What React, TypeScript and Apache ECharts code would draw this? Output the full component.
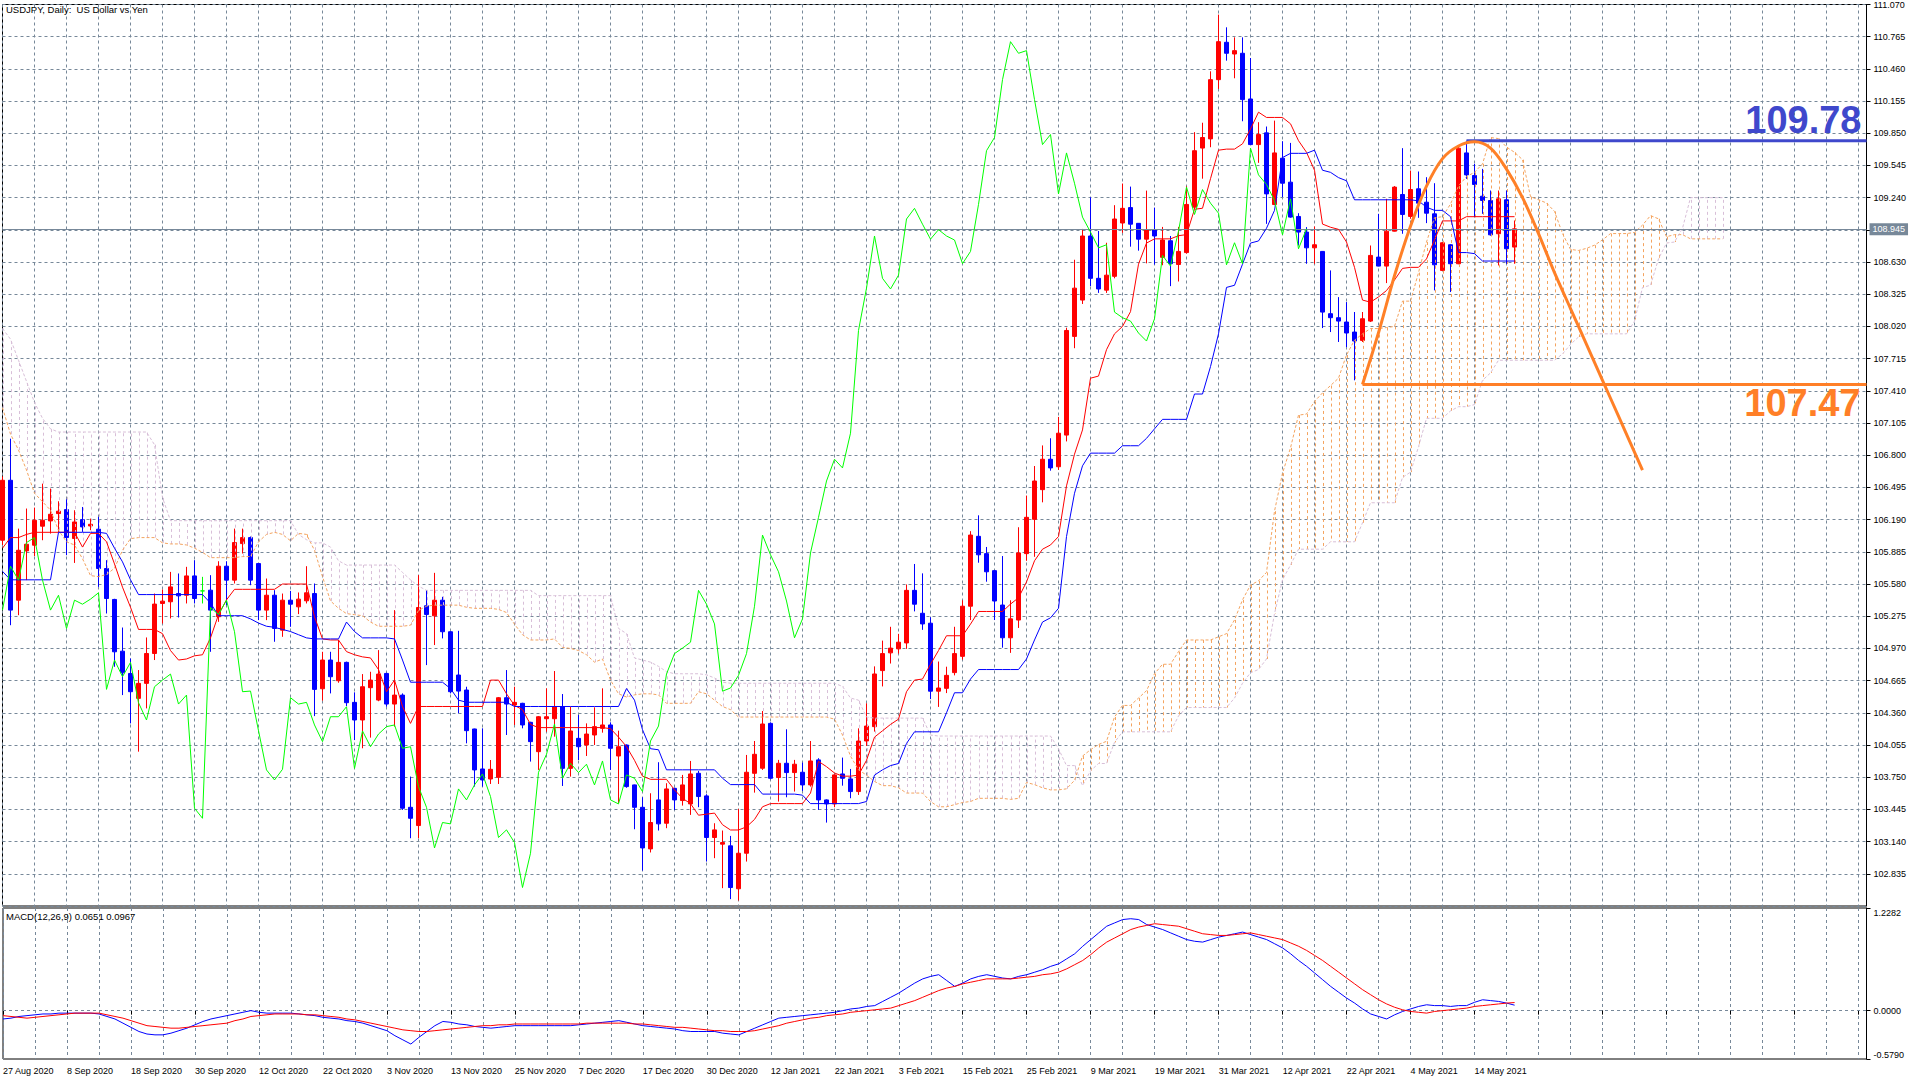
import React, { useEffect, useRef } from "react";
import * as echarts from "echarts";

// ---------- data ----------
const dateLabels = [
  "27 Aug 2020", "8 Sep 2020", "18 Sep 2020", "30 Sep 2020", "12 Oct 2020", "22 Oct 2020",
  "3 Nov 2020", "13 Nov 2020", "25 Nov 2020", "7 Dec 2020", "17 Dec 2020", "30 Dec 2020",
  "12 Jan 2021", "22 Jan 2021", "3 Feb 2021", "15 Feb 2021", "25 Feb 2021", "9 Mar 2021",
  "19 Mar 2021", "31 Mar 2021", "12 Apr 2021", "22 Apr 2021", "4 May 2021", "14 May 2021",
];
const slotCount = 234; // visible bar slots incl. empty future space
const labelEvery = 8;
const gridEvery = 4;
const chikouShift = 26;

const opens = [
  105.995, 106.563, 105.427, 105.894, 105.948, 106.128, 106.178, 106.247, 106.285, 106.011,
  106.19, 106.13, 106.1, 105.727, 105.434, 104.944, 104.733, 104.497, 104.639, 104.922,
  105.396, 105.412, 105.49, 105.474, 105.657, 105.515, 105.522, 105.27, 105.749, 105.617,
  105.963, 106.02, 105.774, 105.333, 105.474, 105.143, 105.427, 105.364, 105.421, 105.49,
  104.588, 104.86, 104.664, 104.838, 104.459, 104.292, 104.598, 104.481, 104.733, 104.443,
  104.528, 103.465, 103.292, 105.374, 105.279, 105.427, 105.128, 104.718, 104.576, 104.207,
  103.828, 103.733, 103.749, 104.503, 104.434, 104.45, 104.27, 103.992, 104.304, 104.304,
  104.418, 103.834, 104.118, 104.055, 104.15, 104.213, 104.245, 103.951, 104.055, 103.677,
  103.465, 103.071, 103.535, 103.314, 103.645, 103.529, 103.497, 103.787, 103.573, 103.179,
  103.116, 103.1, 102.693, 103.03, 103.787, 103.835, 104.26, 103.747, 103.882, 103.794,
  103.797, 103.677, 103.914, 103.535, 103.497, 103.781, 103.734, 103.614, 104.093, 104.229,
  104.76, 104.928, 104.966, 105.022, 105.52, 105.303, 105.209, 104.565, 104.592, 104.741,
  104.895, 105.37, 106.032, 105.868, 105.707, 105.381, 105.071, 105.239, 105.868, 106.193,
  106.474, 106.762, 106.691, 106.991, 107.926, 108.27, 108.877, 108.476, 108.364, 108.495,
  109.0, 109.146, 108.997, 108.847, 108.937, 108.675, 108.832, 108.607, 108.72, 109.15,
  109.71, 109.797, 110.358, 110.712, 110.601, 110.608, 110.175, 109.743, 109.854, 109.175,
  109.614, 109.387, 109.062, 108.914, 108.765, 108.731, 108.141, 108.103, 108.062, 107.967,
  107.888, 108.071, 108.677, 108.592, 108.923, 109.27, 109.062, 109.324, 109.197, 109.087,
  108.551, 108.794, 108.614, 109.664, 109.45, 109.254, 109.213, 108.898, 109.22, 108.772,
];
const closes = [
  106.563, 105.333, 105.9, 105.957, 106.184, 106.184, 106.241, 106.27, 106.02, 106.168,
  106.121, 106.146, 105.727, 105.443, 104.938, 104.739, 104.56, 104.639, 104.922, 105.39,
  105.418, 105.553, 105.468, 105.657, 105.443, 105.515, 105.333, 105.749, 105.617, 105.973,
  106.02, 105.617, 105.333, 105.474, 105.159, 105.427, 105.389, 105.437, 105.497, 104.582,
  104.86, 104.702, 104.838, 104.456, 104.292, 104.607, 104.67, 104.727, 104.443, 104.528,
  103.456, 103.361, 105.358, 105.292, 105.427, 105.128, 104.56, 104.566, 104.191, 103.819,
  103.724, 103.825, 104.503, 104.443, 104.459, 104.245, 104.087, 104.323, 104.323, 104.418,
  103.834, 104.188, 104.039, 104.159, 104.229, 104.245, 104.024, 104.039, 103.661, 103.465,
  103.08, 103.321, 103.308, 103.639, 103.535, 103.677, 103.781, 103.567, 103.179, 103.251,
  103.131, 102.705, 103.03, 103.797, 103.967, 104.254, 103.74, 103.882, 103.794, 103.873,
  103.677, 103.904, 103.535, 103.497, 103.772, 103.74, 103.614, 104.093, 104.235, 104.728,
  104.921, 104.973, 105.029, 105.52, 105.389, 105.202, 104.565, 104.595, 104.715, 104.921,
  105.37, 106.044, 105.857, 105.696, 105.419, 105.071, 105.25, 105.875, 106.212, 106.556,
  106.762, 106.68, 107.009, 107.982, 108.383, 108.877, 108.476, 108.375, 108.506, 109.038,
  109.139, 108.989, 108.847, 108.937, 108.877, 108.839, 108.615, 108.731, 109.176, 109.685,
  109.81, 110.358, 110.718, 110.608, 110.633, 110.169, 109.743, 109.838, 109.276, 109.664,
  109.377, 109.056, 108.914, 108.765, 108.794, 108.156, 108.103, 108.071, 107.958, 107.882,
  108.093, 108.693, 108.592, 108.923, 109.34, 109.081, 109.317, 109.188, 109.093, 108.604,
  108.813, 108.614, 109.709, 109.456, 109.365, 109.213, 108.888, 109.229, 108.756, 108.945,
];
const lows = [
  105.95, 105.19, 105.285, 105.617, 105.844, 105.995, 106.058, 106.074, 105.853, 105.78,
  106.074, 106.09, 105.553, 105.301, 104.796, 104.528, 104.26, 103.992, 104.402, 104.86,
  105.206, 105.254, 105.263, 105.396, 105.396, 105.396, 104.938, 105.222, 105.38, 105.585,
  105.869, 105.569, 105.238, 105.238, 105.033, 105.08, 105.175, 105.295, 105.396, 104.329,
  104.475, 104.544, 104.645, 104.424, 104.102, 104.024, 104.125, 104.47, 104.418, 104.229,
  103.44, 103.172, 103.172, 104.812, 105.002, 105.065, 104.544, 104.355, 104.071, 103.661,
  103.661, 103.686, 103.686, 104.15, 104.245, 104.213, 103.898, 103.819, 104.181, 104.134,
  103.667, 103.756, 103.913, 103.951, 104.055, 104.172, 103.819, 103.503, 103.65, 103.257,
  102.866, 103.037, 103.245, 103.267, 103.44, 103.481, 103.393, 103.466, 102.951, 102.983,
  102.699, 102.595, 102.582, 102.951, 103.604, 103.819, 103.73, 103.519, 103.56, 103.614,
  103.62, 103.661, 103.44, 103.32, 103.466, 103.67, 103.551, 103.582, 104.046, 104.182,
  104.61, 104.827, 104.921, 104.966, 105.321, 105.146, 104.49, 104.416, 104.547, 104.715,
  104.865, 105.239, 105.782, 105.602, 105.239, 104.977, 104.928, 105.164, 105.8, 105.838,
  106.354, 106.654, 106.661, 106.931, 107.814, 108.233, 108.402, 108.338, 108.338, 108.476,
  108.907, 108.776, 108.738, 108.618, 108.607, 108.6, 108.402, 108.446, 108.71, 109.131,
  109.42, 109.718, 110.27, 110.538, 110.371, 109.964, 109.74, 109.57, 108.992, 109.17,
  109.245, 109.05, 108.787, 108.614, 108.614, 108.005, 107.967, 107.873, 107.825, 107.51,
  107.873, 108.062, 108.59, 108.431, 108.92, 108.898, 109.04, 109.049, 108.999, 108.362,
  108.55, 108.346, 108.61, 109.418, 109.056, 109.087, 108.88, 108.598, 108.614, 108.614,
];
const highs = [
  106.6, 106.957, 106.105, 106.295, 106.304, 106.531, 106.484, 106.364, 106.383, 106.279,
  106.31, 106.2, 106.216, 105.806, 105.44, 105.168, 104.875, 104.765, 105.074, 105.49,
  105.528, 105.695, 105.68, 105.743, 105.806, 105.648, 105.664, 105.796, 105.796, 106.105,
  106.105, 106.03, 105.78, 105.632, 105.522, 105.49, 105.515, 105.5, 105.749, 105.585,
  104.938, 104.938, 105.049, 104.845, 104.554, 104.727, 104.749, 104.954, 104.74, 105.333,
  104.544, 103.756, 105.664, 105.522, 105.686, 105.459, 105.135, 105.137, 104.607, 104.21,
  104.213, 103.913, 104.51, 104.765, 104.607, 104.455, 104.275, 104.33, 104.592, 104.756,
  104.538, 104.418, 104.339, 104.26, 104.412, 104.592, 104.27, 104.191, 104.06, 103.68,
  103.56, 103.598, 103.892, 103.693, 103.65, 103.772, 103.904, 103.81, 103.589, 103.314,
  103.245, 103.194, 103.45, 103.961, 104.093, 104.377, 104.27, 103.914, 104.204, 103.914,
  103.888, 104.093, 103.93, 103.54, 103.775, 103.936, 103.828, 104.213, 104.45, 104.8,
  105.044, 105.175, 105.108, 105.576, 105.77, 105.681, 105.265, 104.846, 104.797, 105.175,
  105.426, 106.081, 106.231, 105.931, 105.71, 105.845, 105.426, 106.118, 106.418, 106.698,
  106.893, 106.961, 107.163, 108.008, 108.652, 108.944, 109.244, 108.925, 108.813, 109.169,
  109.374, 109.345, 109.0, 109.307, 109.146, 108.963, 108.877, 108.963, 109.348, 109.861,
  109.95, 110.437, 110.974, 110.854, 110.759, 110.759, 110.563, 109.955, 109.914, 109.97,
  109.775, 109.759, 109.093, 108.961, 108.967, 108.735, 108.551, 108.298, 108.251, 108.157,
  108.157, 108.787, 109.087, 109.229, 109.35, 109.709, 109.497, 109.488, 109.434, 109.377,
  108.82, 108.8, 109.72, 109.78, 109.56, 109.513, 109.308, 109.308, 109.308, 109.024,
];

const tenkan = [
  105.92, 106.02, 106.02, 106.05, 106.07, 106.07, 106.07, 106.07, 106.07, 106.07,
  105.93, 106.06, 106.06, 105.98, 105.77, 105.55, 105.36, 105.15, 105.15, 105.15,
  105.11, 104.95, 104.86, 104.87, 104.9, 104.91, 105.07, 105.29, 105.43, 105.53,
  105.53, 105.53, 105.53, 105.53, 105.53, 105.58, 105.58, 105.58, 105.58, 105.27,
  105.06, 105.05, 105.05, 104.94, 104.91, 104.89, 104.88, 104.77, 104.56, 104.67,
  104.42, 104.26, 104.42, 104.42, 104.42, 104.42, 104.42, 104.42, 104.42, 104.42,
  104.42, 104.67, 104.67, 104.54, 104.43, 104.39, 104.25, 104.22, 104.22, 104.22,
  104.22, 104.22, 104.22, 104.22, 104.22, 104.22, 104.21, 104.13, 104.04, 103.91,
  103.76, 103.73, 103.73, 103.73, 103.63, 103.55, 103.5, 103.39, 103.4, 103.41,
  103.3, 103.25, 103.25, 103.28, 103.35, 103.47, 103.5, 103.5, 103.5, 103.5,
  103.5, 103.6, 103.9, 103.85, 103.79, 103.76, 103.76, 103.77, 103.91, 104.13,
  104.19, 104.25, 104.3, 104.56, 104.67, 104.68, 104.82, 104.95, 105.09, 105.09,
  105.09, 105.2, 105.32, 105.32, 105.32, 105.32, 105.39, 105.45, 105.6, 105.8,
  105.91, 105.95, 106.03, 106.51, 106.81, 107.04, 107.53, 107.55, 107.8, 107.95,
  108.02, 108.16, 108.61, 108.81, 108.85, 108.85, 108.85, 108.88, 108.89, 109.13,
  109.14, 109.42, 109.69, 109.7, 109.7, 109.75, 109.89, 110.05, 110.0, 110.0,
  110.0, 109.94, 109.78, 109.67, 109.5, 108.99, 108.96, 108.94, 108.82, 108.58,
  108.27, 108.25, 108.3, 108.36, 108.46, 108.57, 108.58, 108.58, 108.66, 108.84,
  109.02, 109.02, 109.02, 109.06, 109.06, 109.06, 109.06, 109.06, 109.06, 109.06,
];
const kijun = [
  105.7, 105.62, 105.62, 105.62, 105.62, 105.62, 105.62, 106.07, 106.07, 106.07,
  106.07, 106.07, 106.07, 106.06, 105.92, 105.79, 105.62, 105.48, 105.48, 105.48,
  105.48, 105.48, 105.48, 105.48, 105.48, 105.48, 105.4, 105.28, 105.28, 105.28,
  105.28, 105.25, 105.21, 105.18, 105.17, 105.15, 105.13, 105.1, 105.07, 105.06,
  105.06, 105.06, 105.06, 105.22, 105.13, 105.07, 105.07, 105.07, 105.07, 105.06,
  104.86, 104.65, 104.65, 104.65, 104.65, 104.65, 104.59, 104.48, 104.46, 104.46,
  104.46, 104.46, 104.46, 104.46, 104.42, 104.42, 104.42, 104.42, 104.42, 104.42,
  104.42, 104.42, 104.42, 104.42, 104.42, 104.42, 104.42, 104.42, 104.59, 104.48,
  104.2, 104.02, 104.01, 103.82, 103.82, 103.82, 103.82, 103.82, 103.82, 103.82,
  103.74, 103.68, 103.68, 103.68, 103.68, 103.59, 103.59, 103.59, 103.59, 103.59,
  103.58, 103.5, 103.5, 103.5, 103.5, 103.5, 103.5, 103.5, 103.52, 103.77,
  103.82, 103.86, 103.88, 104.07, 104.18, 104.18, 104.18, 104.18, 104.36, 104.55,
  104.55, 104.68, 104.77, 104.77, 104.77, 104.77, 104.77, 104.77, 104.87, 105.05,
  105.22, 105.26, 105.35, 106.03, 106.44, 106.7, 106.82, 106.82, 106.82, 106.82,
  106.89, 106.89, 106.89, 106.96, 107.05, 107.14, 107.14, 107.14, 107.14, 107.38,
  107.38, 107.64, 107.95, 108.39, 108.41, 108.61, 108.81, 108.83, 108.95, 109.12,
  109.62, 109.66, 109.66, 109.66, 109.69, 109.5, 109.48, 109.43, 109.4, 109.22,
  109.22, 109.22, 109.22, 109.22, 109.22, 109.22, 109.22, 109.21, 109.15, 109.12,
  109.12, 109.06, 108.72, 108.72, 108.71, 108.64, 108.64, 108.64, 108.64, 108.64,
];
const spanA = [
  107.25, 107.0, 106.85, 106.66, 106.44, 106.36, 106.28, 106.09, 105.98, 105.95,
  105.82, 105.66, 105.65, 105.67, 105.73, 105.9, 106.01, 106.02, 106.02, 106.02,
  105.97, 105.96, 105.96, 105.95, 105.92, 105.88, 105.83, 105.83, 105.83, 105.83,
  105.84, 105.84, 105.98, 106.05, 106.07, 106.05, 105.99, 106.06, 106.05, 105.9,
  105.65, 105.42, 105.35, 105.3, 105.29, 105.28, 105.22, 105.18, 105.18, 105.18,
  105.18, 105.19, 105.33, 105.37, 105.38, 105.38, 105.38, 105.38, 105.36, 105.35,
  105.35, 105.35, 105.34, 105.31, 105.2, 105.1, 105.05, 105.05, 105.05, 105.06,
  104.98, 104.97, 104.95, 104.91, 104.84, 104.87, 104.67, 104.54, 104.51, 104.53,
  104.54, 104.54, 104.53, 104.45, 104.45, 104.45, 104.45, 104.56, 104.54, 104.48,
  104.42, 104.39, 104.32, 104.32, 104.32, 104.32, 104.32, 104.32, 104.32, 104.32,
  104.32, 104.32, 104.32, 104.32, 104.3, 104.15, 103.95, 103.82, 103.77, 103.71,
  103.67, 103.67, 103.65, 103.6, 103.6, 103.6, 103.52, 103.47, 103.47, 103.49,
  103.51, 103.52, 103.55, 103.55, 103.55, 103.55, 103.54, 103.55, 103.7, 103.68,
  103.65, 103.63, 103.63, 103.64, 103.72, 103.95, 104.01, 104.06, 104.09, 104.32,
  104.43, 104.43, 104.5, 104.57, 104.73, 104.82, 104.82, 104.94, 105.05, 105.05,
  105.05, 105.05, 105.08, 105.11, 105.24, 105.43, 105.57, 105.61, 105.69, 106.27,
  106.63, 106.87, 107.18, 107.19, 107.31, 107.39, 107.46, 107.53, 107.75, 107.89,
  107.95, 108.0, 108.0, 108.01, 108.02, 108.26, 108.26, 108.53, 108.82, 109.05,
  109.06, 109.18, 109.35, 109.44, 109.48, 109.56, 109.81, 109.8, 109.72, 109.67,
  109.6, 109.25, 109.22, 109.19, 109.11, 108.9, 108.75, 108.74, 108.76, 108.79,
  108.84, 108.9, 108.9, 108.9, 108.91, 108.98, 109.07, 109.04, 108.87, 108.89,
  108.89, 108.85, 108.85, 108.85, 108.85, 108.85,
];
const spanB = [
  108.0, 107.9, 107.7, 107.5, 107.3, 107.15, 107.05, 107.02, 107.02, 107.02,
  107.02, 107.02, 107.02, 107.02, 107.02, 107.02, 107.02, 107.02, 107.02, 106.9,
  106.4, 106.18, 106.18, 106.18, 106.18, 106.18, 106.18, 106.18, 106.18, 106.18,
  106.18, 106.18, 106.18, 106.18, 106.18, 106.18, 106.18, 106.05, 106.0, 105.97,
  105.97, 105.93, 105.8, 105.76, 105.76, 105.76, 105.76, 105.76, 105.76, 105.76,
  105.69, 105.62, 105.56, 105.52, 105.52, 105.52, 105.52, 105.52, 105.52, 105.52,
  105.52, 105.52, 105.52, 105.52, 105.52, 105.52, 105.52, 105.47, 105.47, 105.47,
  105.47, 105.47, 105.47, 105.47, 105.47, 105.47, 105.47, 105.16, 105.11, 104.88,
  104.86, 104.84, 104.8, 104.75, 104.73, 104.73, 104.73, 104.73, 104.72, 104.69,
  104.65, 104.64, 104.64, 104.64, 104.64, 104.64, 104.64, 104.64, 104.64, 104.64,
  104.64, 104.64, 104.64, 104.64, 104.64, 104.61, 104.5, 104.48, 104.32, 104.31,
  104.31, 104.31, 104.31, 104.31, 104.31, 104.31, 104.15, 104.14, 104.14, 104.14,
  104.14, 104.14, 104.14, 104.14, 104.14, 104.14, 104.14, 104.14, 104.14, 104.14,
  104.14, 104.14, 104.02, 103.86, 103.86, 103.67, 103.81, 103.88, 103.88, 104.08,
  104.18, 104.18, 104.18, 104.18, 104.18, 104.18, 104.18, 104.33, 104.41, 104.41,
  104.41, 104.41, 104.41, 104.41, 104.5, 104.64, 104.74, 104.77, 104.87, 105.3,
  105.62, 105.76, 105.91, 105.91, 105.91, 105.91, 105.98, 105.98, 105.98, 105.98,
  106.16, 106.35, 106.35, 106.35, 106.35, 106.59, 106.64, 106.88, 107.15, 107.15,
  107.15, 107.22, 107.26, 107.26, 107.28, 107.51, 107.58, 107.7, 107.7, 107.7,
  107.7, 107.7, 107.7, 107.7, 107.7, 107.76, 107.85, 107.92, 107.95, 107.95,
  107.95, 107.95, 107.95, 107.95, 108.07, 108.39, 108.41, 108.66, 108.81, 108.82,
  108.95, 109.24, 109.24, 109.24, 109.24, 109.24,
];

const macdMain = [
  -0.10, -0.09, -0.07, -0.06, -0.05, -0.04, -0.04, -0.03, -0.03, -0.03,
  -0.03, -0.03, -0.04, -0.07, -0.10, -0.15, -0.20, -0.25, -0.28, -0.29,
  -0.29, -0.27, -0.24, -0.21, -0.17, -0.13, -0.10, -0.08, -0.06, -0.04,
  -0.02, 0.00, -0.02, -0.03, -0.03, -0.03, -0.03, -0.04, -0.05, -0.06,
  -0.08, -0.09, -0.10, -0.12, -0.13, -0.15, -0.18, -0.21, -0.24, -0.30,
  -0.35, -0.40, -0.32, -0.25, -0.18, -0.13, -0.14, -0.16, -0.17, -0.19,
  -0.20, -0.21, -0.20, -0.19, -0.18, -0.18, -0.18, -0.18, -0.18, -0.18,
  -0.18, -0.18, -0.17, -0.16, -0.15, -0.14, -0.13, -0.12, -0.14, -0.16,
  -0.18, -0.19, -0.20, -0.21, -0.22, -0.24, -0.25, -0.25, -0.25, -0.25,
  -0.27, -0.28, -0.29, -0.25, -0.21, -0.17, -0.13, -0.09, -0.08, -0.07,
  -0.06, -0.05, -0.04, -0.03, -0.02, 0.00, 0.02, 0.03, 0.05, 0.06,
  0.11, 0.16, 0.21, 0.27, 0.33, 0.38, 0.41, 0.43, 0.36, 0.29,
  0.33, 0.38, 0.41, 0.43, 0.41, 0.39, 0.38, 0.41, 0.43, 0.46,
  0.49, 0.53, 0.56, 0.62, 0.68, 0.77, 0.85, 0.93, 1.01, 1.05,
  1.09, 1.10, 1.09, 1.03, 1.00, 0.97, 0.93, 0.89, 0.85, 0.83,
  0.82, 0.85, 0.88, 0.90, 0.92, 0.94, 0.91, 0.88, 0.85, 0.80,
  0.75, 0.68, 0.60, 0.53, 0.45, 0.37, 0.29, 0.22, 0.15, 0.09,
  0.02, -0.04, -0.07, -0.10, -0.05, -0.01, 0.02, 0.05, 0.07, 0.06,
  0.06, 0.05, 0.06, 0.06, 0.10, 0.13, 0.12, 0.11, 0.09, 0.0651,
];
const macdSignal = [
  -0.06, -0.07, -0.08, -0.09, -0.08, -0.07, -0.06, -0.05, -0.04, -0.03,
  -0.03, -0.03, -0.03, -0.05, -0.07, -0.09, -0.12, -0.15, -0.18, -0.19,
  -0.20, -0.21, -0.21, -0.20, -0.19, -0.18, -0.17, -0.16, -0.15, -0.12,
  -0.10, -0.07, -0.06, -0.05, -0.04, -0.04, -0.04, -0.04, -0.05, -0.05,
  -0.06, -0.07, -0.08, -0.10, -0.11, -0.13, -0.15, -0.17, -0.19, -0.21,
  -0.23, -0.24, -0.25, -0.25, -0.24, -0.23, -0.22, -0.21, -0.20, -0.19,
  -0.18, -0.18, -0.17, -0.17, -0.16, -0.16, -0.16, -0.16, -0.16, -0.16,
  -0.16, -0.16, -0.16, -0.15, -0.15, -0.15, -0.15, -0.15, -0.15, -0.16,
  -0.16, -0.17, -0.18, -0.19, -0.20, -0.20, -0.21, -0.22, -0.23, -0.24,
  -0.24, -0.25, -0.25, -0.25, -0.24, -0.22, -0.20, -0.18, -0.15, -0.13,
  -0.11, -0.09, -0.08, -0.06, -0.05, -0.04, -0.02, -0.01, 0.00, 0.01,
  0.02, 0.03, 0.06, 0.09, 0.12, 0.16, 0.20, 0.24, 0.27, 0.29,
  0.32, 0.34, 0.36, 0.38, 0.38, 0.38, 0.38, 0.39, 0.40, 0.41,
  0.43, 0.44, 0.46, 0.50, 0.55, 0.60, 0.67, 0.75, 0.82, 0.87,
  0.92, 0.97, 1.00, 1.02, 1.04, 1.03, 1.02, 1.01, 0.98, 0.95,
  0.92, 0.91, 0.90, 0.90, 0.91, 0.92, 0.93, 0.91, 0.89, 0.87,
  0.85, 0.81, 0.77, 0.72, 0.66, 0.60, 0.53, 0.46, 0.39, 0.32,
  0.25, 0.19, 0.13, 0.08, 0.04, 0.01, -0.01, -0.02, -0.03, -0.01,
  0.00, 0.01, 0.02, 0.03, 0.05, 0.06, 0.07, 0.08, 0.09, 0.0967,
];

// price axis ticks: 102.835 ... 111.070 every 0.305 (axis starts one step below)
const priceMin = 102.53;
const priceMax = 111.07;
const priceStep = 0.305;
const macdTicks = [-0.579, 0, 1.2282];
const lastPrice = 108.945;

// drawn objects
const resistanceLevel = 109.78;
const resistanceStart = 183;
const supportLevel = 107.47;
const supportStart = 170;
const arcPoints = [
  [170, 107.47], [172, 107.96], [174, 108.5], [176, 108.97], [178, 109.35], [180, 109.61],
  [182, 109.73], [184, 109.77], [186, 109.71], [188, 109.51], [190, 109.24], [192, 108.9],
  [194, 108.53], [196, 108.19], [198, 107.85], [200, 107.51], [202, 107.17], [205, 106.66],
];

const FONT = "'Liberation Sans', Arial, sans-serif";
const GRID_COLOR = "#778899";

export default function App() {
  const ref = useRef<HTMLDivElement>(null);

  useEffect(() => {
    document.body.style.margin = "0";
    const el = ref.current;
    if (!el) return;
    const chart = echarts.init(el, null, { renderer: "svg" });

    const categories = Array.from({ length: slotCount }, (_, i) => String(i));
    const candleData = opens.map((o, i) => [o, closes[i], lows[i], highs[i]]);
    const chikou = closes.slice(chikouShift);
    const cloudData = spanA.map((a, i) => [i, a, spanB[i]]);
    const lastSlot = slotCount - 1;

    const splitLineStyle = { show: true, interval: gridEvery - 1, lineStyle: { color: GRID_COLOR, width: 1, type: [3, 3] } };

    const option: any = {
      animation: false,
      backgroundColor: "#ffffff",
      textStyle: { fontFamily: FONT },
      grid: [
        { left: 2.5, right: 53.5, top: 4, height: 902, show: true, borderColor: "#000", borderWidth: 1, backgroundColor: "transparent" },
        { left: 2.5, right: 53.5, top: 908, height: 151, show: true, borderColor: "#000", borderWidth: 1, backgroundColor: "transparent" },
      ],
      xAxis: [
        {
          type: "category", gridIndex: 0, data: categories, boundaryGap: false,
          axisLine: { show: false }, axisTick: { show: false }, axisLabel: { show: false },
          splitLine: splitLineStyle,
        },
        {
          type: "category", gridIndex: 1, data: categories, boundaryGap: false,
          axisLine: { show: false },
          axisTick: { show: true, interval: labelEvery - 1, length: 4, lineStyle: { color: "#000" } },
          axisLabel: {
            show: true, interval: labelEvery - 1, align: "left", fontSize: 9, color: "#000", margin: 7, fontFamily: FONT,
            formatter: (_v: string, i: number) => dateLabels[i / labelEvery] || "",
          },
          splitLine: splitLineStyle,
        },
      ],
      yAxis: [
        {
          type: "value", gridIndex: 0, position: "right", min: priceMin, max: priceMax, interval: priceStep,
          axisLine: { show: true, lineStyle: { color: "#000" } },
          axisTick: { show: true, length: 4, lineStyle: { color: "#000" } },
          axisLabel: { showMinLabel: false, fontSize: 9, color: "#000", margin: 7, fontFamily: FONT, formatter: (v: number) => v.toFixed(3) },
          splitLine: { show: true, lineStyle: { color: GRID_COLOR, width: 1, type: [3, 3] } },
        },
        {
          type: "value", gridIndex: 1, position: "right", min: macdTicks[0], max: macdTicks[2],
          axisLine: { show: true, lineStyle: { color: "#000" } },
          axisTick: { show: true, length: 4, customValues: macdTicks, lineStyle: { color: "#000" } },
          axisLabel: {
            customValues: macdTicks, fontSize: 9, color: "#000", margin: 7, fontFamily: FONT,
            verticalAlignMinLabel: "bottom", verticalAlignMaxLabel: "top",
            formatter: (v: number) => v.toFixed(4),
          },
          splitLine: { show: false },
        },
      ],
      series: [
        {
          type: "candlestick", xAxisIndex: 0, yAxisIndex: 0, data: candleData, barWidth: 4, z: 2,
          itemStyle: {
            color: "#ff0000", color0: "#0000ff", borderColor: "#ff0000", borderColor0: "#0000ff",
            borderColorDoji: "#00ff00", borderWidth: 1,
          },
          markLine: {
            silent: true, symbol: "none", animation: false,
            lineStyle: { color: GRID_COLOR, type: "solid", width: 1 },
            label: {
              show: true, position: "end", distance: 3, formatter: lastPrice.toFixed(3),
              backgroundColor: GRID_COLOR, color: "#fff", fontSize: 9, padding: [2, 3, 1, 3], fontFamily: FONT,
            },
            data: [{ yAxis: lastPrice }],
          },
        },
        {
          type: "custom", xAxisIndex: 0, yAxisIndex: 0, data: cloudData, z: 3, silent: true, clip: true,
          encode: { x: 0, y: [1, 2] },
          renderItem: (_params: any, api: any) => {
            const i = api.value(0);
            const a = api.value(1);
            const b = api.value(2);
            const p1 = api.coord([i, a]);
            const p2 = api.coord([i, b]);
            const x = Math.round(p1[0]) + 0.5;
            return {
              type: "line",
              shape: { x1: x, y1: p1[1], x2: x, y2: p2[1] },
              style: { stroke: a >= b ? "#f4a460" : "#d8bfd8", lineWidth: 1, lineDash: [3, 3] },
            };
          },
        },
        { type: "line", xAxisIndex: 0, yAxisIndex: 0, data: spanA, symbol: "none", z: 4, silent: true, lineStyle: { color: "#f4a460", width: 1, type: [3, 2] } },
        { type: "line", xAxisIndex: 0, yAxisIndex: 0, data: spanB, symbol: "none", z: 4, silent: true, lineStyle: { color: "#d8bfd8", width: 1, type: [3, 2] } },
        { type: "line", xAxisIndex: 0, yAxisIndex: 0, data: tenkan, symbol: "none", z: 5, silent: true, lineStyle: { color: "#ff0000", width: 1 } },
        { type: "line", xAxisIndex: 0, yAxisIndex: 0, data: kijun, symbol: "none", z: 5, silent: true, lineStyle: { color: "#0000ff", width: 1 } },
        { type: "line", xAxisIndex: 0, yAxisIndex: 0, data: chikou, symbol: "none", z: 5, silent: true, lineStyle: { color: "#00ff00", width: 1 } },
        {
          type: "line", xAxisIndex: 0, yAxisIndex: 0, symbol: "none", z: 6, silent: true,
          data: [[resistanceStart, resistanceLevel], [lastSlot, resistanceLevel]],
          lineStyle: { color: "#3f48cc", width: 3 },
        },
        {
          type: "line", xAxisIndex: 0, yAxisIndex: 0, symbol: "none", z: 6, silent: true,
          data: [[supportStart, supportLevel], [lastSlot, supportLevel]],
          lineStyle: { color: "#ff7f27", width: 3 },
        },
        {
          type: "line", xAxisIndex: 0, yAxisIndex: 0, symbol: "none", z: 6, silent: true, smooth: 0.35,
          data: arcPoints, lineStyle: { color: "#ff8027", width: 3 },
        },
        {
          type: "line", xAxisIndex: 1, yAxisIndex: 1, data: macdMain, symbol: "none", z: 5, silent: true,
          lineStyle: { color: "#0000ff", width: 1 },
          markLine: {
            silent: true, symbol: "none", label: { show: false },
            lineStyle: { color: GRID_COLOR, type: [3, 3], width: 1 },
            data: [{ yAxis: 0 }],
          },
        },
        {
          type: "line", xAxisIndex: 1, yAxisIndex: 1, data: macdSignal, symbol: "none", z: 5, silent: true,
          lineStyle: { color: "#ff0000", width: 1 },
        },
      ],
    };

    chart.setOption(option);

    const pRes = chart.convertToPixel({ gridIndex: 0 } as any, [lastSlot, resistanceLevel]) as number[];
    const pSup = chart.convertToPixel({ gridIndex: 0 } as any, [lastSlot, supportLevel]) as number[];
    const bigFont = "bold 38px " + FONT;

    chart.setOption({
      graphic: [
        { type: "text", left: 6, top: 4, z: 100, silent: true, style: { text: "USDJPY, Daily:  US Dollar vs Yen", fontSize: 9.5, fontFamily: FONT, fill: "#000" } },
        { type: "text", left: 6, top: 911, z: 100, silent: true, style: { text: "MACD(12,26,9) 0.0651 0.0967", fontSize: 9.5, fontFamily: FONT, fill: "#000" } },
        { type: "text", x: pRes[0] - 5, y: pRes[1] - 21, z: 100, silent: true, style: { text: resistanceLevel.toFixed(2), font: bigFont, fill: "#3f48cc", align: "right", verticalAlign: "middle" } },
        { type: "text", x: pSup[0] - 6, y: pSup[1] + 18, z: 100, silent: true, style: { text: supportLevel.toFixed(2), font: bigFont, fill: "#ff7f27", align: "right", verticalAlign: "middle" } },
      ],
    });

    return () => chart.dispose();
  }, []);

  return <div ref={ref} style={{ width: "1920px", height: "1080px" }} />;
}
